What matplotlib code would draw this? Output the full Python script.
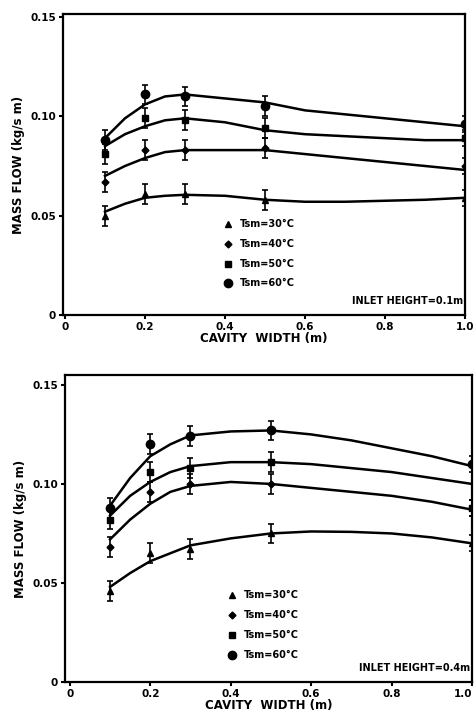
import matplotlib
matplotlib.use("Agg")
import matplotlib.pyplot as plt

# ---------------- data ----------------
widths = [0.1, 0.2, 0.3, 0.5, 1.0]
curve_x = [0.1, 0.15, 0.2, 0.25, 0.3, 0.4, 0.5, 0.6, 0.7, 0.8, 0.9, 1.0]
labels = ["Tsm=30°C", "Tsm=40°C", "Tsm=50°C", "Tsm=60°C"]
markers = ["^", "D", "s", "o"]
msizes = [4.5, 3.5, 5, 6]

# top panel: inlet height 0.1 m
top_pts_30 = [0.050, 0.061, 0.061, 0.058, 0.059]
top_pts_40 = [0.067, 0.083, 0.083, 0.084, 0.075]
top_pts_50 = [0.081, 0.099, 0.098, 0.094, 0.089]
top_pts_60 = [0.088, 0.111, 0.110, 0.105, 0.096]
top_err = [0.005, 0.005, 0.005, 0.005, 0.004]
top_curve_30 = [0.052, 0.056, 0.059, 0.060, 0.0605, 0.060, 0.058, 0.057, 0.057, 0.0575, 0.058, 0.059]
top_curve_40 = [0.070, 0.075, 0.079, 0.082, 0.083, 0.083, 0.083, 0.081, 0.079, 0.077, 0.075, 0.073]
top_curve_50 = [0.085, 0.091, 0.095, 0.098, 0.099, 0.097, 0.093, 0.091, 0.090, 0.089, 0.088, 0.088]
top_curve_60 = [0.089, 0.099, 0.106, 0.110, 0.111, 0.109, 0.107, 0.103, 0.101, 0.099, 0.097, 0.095]

# bottom panel: inlet height 0.4 m
bot_pts_30 = [0.046, 0.065, 0.067, 0.075, 0.070]
bot_pts_40 = [0.068, 0.096, 0.100, 0.100, 0.088]
bot_pts_50 = [0.082, 0.106, 0.108, 0.111, 0.088]
bot_pts_60 = [0.088, 0.120, 0.124, 0.127, 0.110]
bot_err = [0.005, 0.005, 0.005, 0.005, 0.004]
bot_curve_30 = [0.048, 0.055, 0.061, 0.065, 0.069, 0.0725, 0.075, 0.076, 0.0758, 0.075, 0.073, 0.070]
bot_curve_40 = [0.072, 0.082, 0.090, 0.096, 0.099, 0.101, 0.100, 0.098, 0.096, 0.094, 0.091, 0.087]
bot_curve_50 = [0.084, 0.094, 0.101, 0.106, 0.109, 0.111, 0.111, 0.110, 0.108, 0.106, 0.103, 0.100]
bot_curve_60 = [0.089, 0.103, 0.114, 0.120, 0.1245, 0.1265, 0.127, 0.125, 0.122, 0.118, 0.114, 0.109]

xticks = [0, 0.2, 0.4, 0.6, 0.8, 1.0]
xticklabels = ["0", "0.2", "0.4", "0.6", "0.8", "1.0"]
yticks = [0, 0.05, 0.10, 0.15]
yticklabels = ["0", "0.05", "0.10", "0.15"]

panels = [
    dict(pts=[top_pts_30, top_pts_40, top_pts_50, top_pts_60],
         curves=[top_curve_30, top_curve_40, top_curve_50, top_curve_60],
         err=top_err, note="INLET HEIGHT=0.1m",
         rect=[63/474, 1-315/723, (465-63)/474, (315-14)/723],
         xlim=(-0.005, 1.0), ylim=(0, 0.1515),
         leg_x=0.41, leg_y=[0.303, 0.237, 0.171, 0.105]),
    dict(pts=[bot_pts_30, bot_pts_40, bot_pts_50, bot_pts_60],
         curves=[bot_curve_30, bot_curve_40, bot_curve_50, bot_curve_60],
         err=bot_err, note="INLET HEIGHT=0.4m",
         rect=[65/474, 1-682/723, (472-65)/474, (682-375)/723],
         xlim=(-0.012, 1.0), ylim=(0, 0.155),
         leg_x=0.41, leg_y=[0.283, 0.218, 0.153, 0.088]),
]

fig = plt.figure(figsize=(4.74, 7.23), dpi=100)
fs = 7.5
for k, p in enumerate(panels):
    ax = fig.add_axes(p["rect"])
    for i in range(4):
        ax.plot(curve_x, p["curves"][i], color="black", lw=1.8, zorder=2)
        ax.errorbar(widths, p["pts"][i], yerr=p["err"], fmt=markers[i],
                    ms=msizes[i], color="black", ecolor="black", elinewidth=1.2,
                    capsize=2, capthick=1.2, zorder=3)
    ax.set_xlim(*p["xlim"])
    ax.set_ylim(*p["ylim"])
    ax.set_xticks(xticks)
    ax.set_xticklabels(xticklabels, fontsize=fs, fontweight="bold")
    ax.set_yticks(yticks)
    ax.set_yticklabels(yticklabels, fontsize=fs, fontweight="bold")
    ax.tick_params(direction="out", length=3, width=1.5, pad=2)
    if k == 1:
        ax.get_xticklabels()[-1].set_horizontalalignment("right")
    for s in ax.spines.values():
        s.set_linewidth(1.6)
    ax.set_xlabel("CAVITY  WIDTH (m)", fontsize=8.5, fontweight="bold", labelpad=0)
    ax.set_ylabel("MASS FLOW (kg/s m)", fontsize=8.5, fontweight="bold", labelpad=4)
    for i in range(4):
        ax.plot([p["leg_x"]], [p["leg_y"][i]], marker=markers[i], ms=msizes[i],
                color="black", ls="none", transform=ax.transAxes)
        ax.text(p["leg_x"] + 0.03, p["leg_y"][i], labels[i], transform=ax.transAxes,
                fontsize=7, fontweight="bold", va="center", ha="left")
    ax.text(0.995, 0.045, p["note"], transform=ax.transAxes, fontsize=7,
            fontweight="bold", ha="right", va="center")

fig.savefig("out.png", dpi=100)
